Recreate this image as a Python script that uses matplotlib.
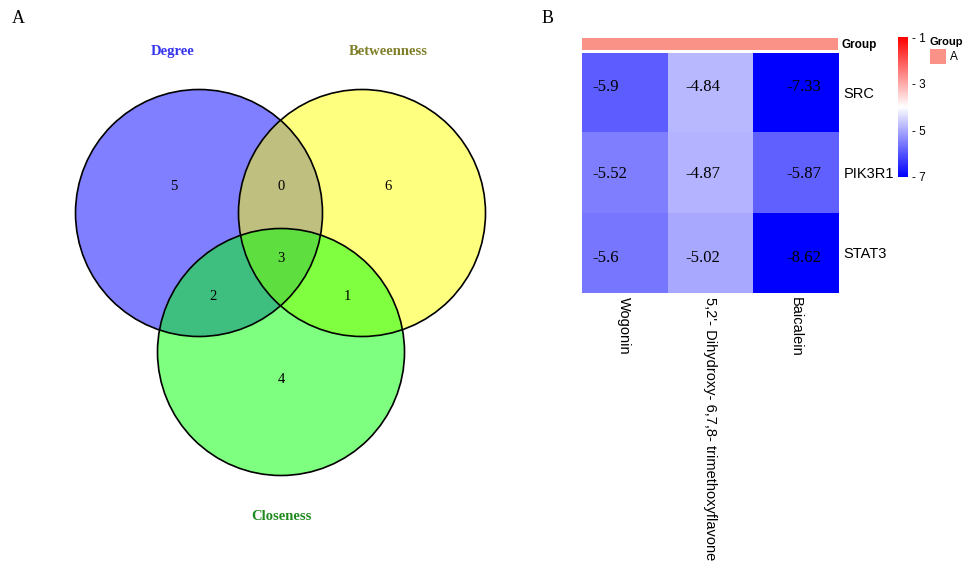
import matplotlib
matplotlib.use("Agg")
import matplotlib.pyplot as plt
import numpy as np
from matplotlib.patches import Circle, Rectangle
from matplotlib.colors import LinearSegmentedColormap, Normalize
from matplotlib.cm import ScalarMappable

# ---------------- data ----------------
set_names = ["Degree", "Betweenness", "Closeness"]
set_colors = ["#0000FF", "#FFFF00", "#00FF00"]
set_label_colors = ["#3535EE", "#7F7F2A", "#1E8A1E"]
# region counts: only D, only B, only C, D&B, D&C, B&C, D&B&C
region_keys = ["D", "B", "C", "DB", "DC", "BC", "DBC"]
region_counts = [5, 6, 4, 0, 2, 1, 3]

compounds = ["Wogonin", "5,2'- Dihydroxy- 6,7,8- trimethoxyflavone", "Baicalein"]
targets = ["SRC", "PIK3R1", "STAT3"]
scores = np.array([
    [-5.9, -4.84, -7.33],
    [-5.52, -4.87, -5.87],
    [-5.6, -5.02, -8.62],
])
cbar_ticks = [-1, -3, -5, -7]
group_name = "Group"
group_level = "A"

# ---------------- layout ----------------
W, H = 964, 561
fig = plt.figure(figsize=(W / 100, H / 100), dpi=100)
ov = fig.add_axes([0, 0, 1, 1])
ov.set_xlim(0, W)
ov.set_ylim(H, 0)
ov.axis("off")

serif = "Liberation Serif"
sans = "Liberation Sans"

# Panel letters
ov.text(18, 18, "A", family=serif, fontsize=13, ha="center", va="center")
ov.text(548, 18, "B", family=serif, fontsize=13, ha="center", va="center")

# ---------------- Venn ----------------
r = 123.5
centers = [(199, 213), (362, 213), (281, 352)]
for (cx, cy), col in zip(centers, set_colors):
    ov.add_patch(Circle((cx, cy), r, facecolor=col, alpha=0.5, edgecolor="none"))
for (cx, cy) in centers:
    ov.add_patch(Circle((cx, cy), r, facecolor="none", edgecolor="black", lw=1.2))

name_pos = [(173, 51), (388, 51), (281, 516)]
for name, (x, y), c in zip(set_names, name_pos, set_label_colors):
    ov.text(x, y, name, family=serif, weight="bold", fontsize=10.5, color=c,
            ha="center", va="center")

region_pos = {"D": (174, 186), "B": (388, 186), "C": (281, 379), "DB": (281, 186),
              "DC": (213, 296), "BC": (347, 296), "DBC": (281, 258)}
for k, n in zip(region_keys, region_counts):
    x, y = region_pos[k]
    ov.text(x, y, str(n), family=serif, fontsize=10.5, ha="center", va="center")

# ---------------- Heatmap ----------------
hx0, hx1, hy0, hy1 = 581.7, 838.0, 52.7, 293.0
cmap = LinearSegmentedColormap.from_list("bwr_p", ["#0000FF", "#FFFFFF", "#FF0000"])
norm = Normalize(vmin=-7, vmax=-1, clip=True)

axh = fig.add_axes([hx0 / W, 1 - hy1 / H, (hx1 - hx0) / W, (hy1 - hy0) / H])
axh.imshow(scores, cmap=cmap, norm=norm, aspect="auto", interpolation="nearest",
           extent=(0, scores.shape[1], scores.shape[0], 0))
for s in axh.spines.values():
    s.set_visible(False)

col_off = [0.13, 0.21, 0.39]
row_off = [-0.075, 0.015, 0.06]
for i in range(scores.shape[0]):
    for j in range(scores.shape[1]):
        axh.text(j + col_off[j], i + 0.5 + row_off[i], f"{scores[i, j]:g}",
                 family=serif, fontsize=12, ha="left", va="center", color="black")

axh.set_xticks(np.arange(len(compounds)) + 0.5)
axh.set_xticklabels(compounds, rotation=-90, family=sans, fontsize=10.5,
                    ha="center", va="top")
axh.set_yticks(np.arange(len(targets)) + 0.5)
axh.set_yticklabels(targets, family=sans, fontsize=10.5)
axh.yaxis.tick_right()
axh.tick_params(axis="both", length=0)
axh.tick_params(axis="x", pad=3)
axh.tick_params(axis="y", pad=4)

# group annotation bar
grp_color = "#FA9288"
axg = fig.add_axes([hx0 / W, 1 - 50.0 / H, (hx1 - hx0) / W, 11.7 / H])
axg.add_patch(Rectangle((0, 0), 1, 1, facecolor=grp_color, edgecolor="none",
                        transform=axg.transAxes))
axg.axis("off")
ov.text(842, 44.5, group_name, family=sans, weight="bold", fontsize=8.5,
        ha="left", va="center")

# colorbar
axc = fig.add_axes([898.3 / W, 1 - 176.7 / H, 9.4 / W, 139.4 / H])
cb = fig.colorbar(ScalarMappable(norm=norm, cmap=cmap), cax=axc, ticks=cbar_ticks)
cb.outline.set_visible(False)
cb.ax.set_yticklabels([f"- {abs(t)}" for t in cbar_ticks], family=sans, fontsize=8.5)
cb.ax.tick_params(length=0, pad=3)

# group legend
ov.text(929, 42, group_name, family=sans, weight="bold", fontsize=8,
        ha="left", va="center")
ov.add_patch(Rectangle((930, 49), 16, 15, facecolor=grp_color, edgecolor="none"))
ov.text(950, 57, group_level, family=sans, fontsize=8.5, ha="left", va="center")

fig.savefig("out.png", dpi=100)
